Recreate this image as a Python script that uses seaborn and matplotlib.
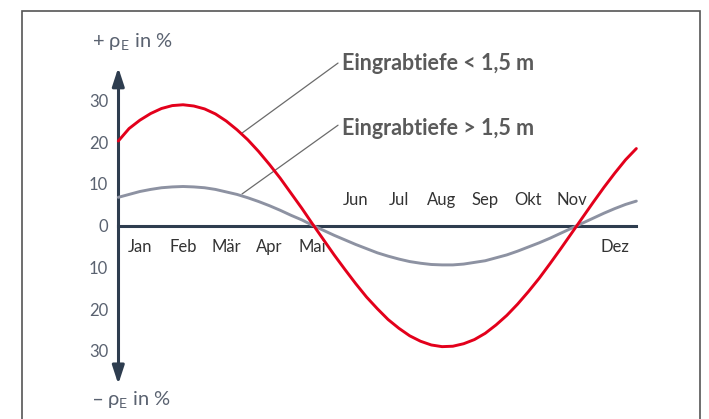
import numpy as np
import pandas as pd
import matplotlib
matplotlib.use('Agg')
import matplotlib.pyplot as plt
from matplotlib.patches import Rectangle
import seaborn as sns

sns.set_style('white')
plt.rcParams['font.family'] = ['Lato', 'DejaVu Sans']

# month position (0 = start of Jan, 12 = end of Dez), quarter-month steps
month_pos = [i / 4 for i in range(49)]

# values (ρE in %)
shallow = [20.3, 23.3, 25.3, 26.9, 28.1, 28.8, 29.0, 28.7, 28.0, 26.8, 25.1, 23.0,
           20.6, 17.8, 14.7, 11.4, 7.8, 4.2, 0.4, -3.3, -7.0, -10.5, -13.9, -17.1,
           -19.9, -22.5, -24.6, -26.4, -27.7, -28.6, -29.0, -28.9, -28.3, -27.3, -25.8, -23.8,
           -21.5, -18.8, -15.8, -12.6, -9.1, -5.5, -1.8, 1.9, 5.6, 9.2, 12.6, 15.8, 18.5]
deep = [6.8, 7.5, 8.2, 8.7, 9.1, 9.3, 9.4, 9.3, 9.1, 8.7, 8.1, 7.5,
        6.7, 5.8, 4.8, 3.7, 2.5, 1.4, 0.1, -1.1, -2.3, -3.4, -4.5, -5.5,
        -6.5, -7.3, -8.0, -8.6, -9.0, -9.3, -9.4, -9.4, -9.2, -8.8, -8.4, -7.7,
        -7.0, -6.1, -5.1, -4.1, -3.0, -1.8, -0.6, 0.6, 1.8, 3.0, 4.1, 5.1, 5.9]

months = ['Jan', 'Feb', 'Mär', 'Apr', 'Mai', 'Jun', 'Jul', 'Aug', 'Sep', 'Okt', 'Nov', 'Dez']
months_above = ['Jun', 'Jul', 'Aug', 'Sep', 'Okt', 'Nov']
y_ticks = [-30, -20, -10, 0, 10, 20, 30]
y_ticklabels = ['30', '20', '10', '0', '10', '20', '30']

label_shallow = 'Eingrabtiefe < 1,5 m'
label_deep = 'Eingrabtiefe > 1,5 m'

AXIS = '#2e3d4f'
RED = '#e3001b'
GREY = '#8d92a2'
TXT = '#5a6270'

df = pd.DataFrame({'month': month_pos, 'shallow': shallow, 'deep': deep})

fig = plt.figure(figsize=(7.09, 4.19), dpi=100)
ax = fig.add_axes([0, 0, 1, 1])
ax.set_facecolor('none')

sns.lineplot(data=df, x='month', y='deep', color=GREY, lw=2.1, ax=ax, legend=False, zorder=3)
sns.lineplot(data=df, x='month', y='shallow', color=RED, lw=2.1, ax=ax, legend=False, zorder=4)

ax.set_xlim(-2.740, 13.683)
ax.set_ylim(-46.35, 54.12)

# axes through the origin
for s in ['top', 'right']:
    ax.spines[s].set_visible(False)
ax.spines['left'].set_position(('data', 0))
ax.spines['bottom'].set_position(('data', 0))
ax.spines['left'].set_bounds(-35, 35)
ax.spines['bottom'].set_bounds(0, 12)
for s in ['left', 'bottom']:
    ax.spines[s].set_color(AXIS)
    ax.spines[s].set_linewidth(2.2)
    ax.spines[s].set_zorder(2)

ax.set_xticks(range(1, 13))
ax.set_xticklabels([])
ax.tick_params(axis='x', direction='inout', length=8, width=1.1, color=AXIS)
ax.set_yticks(y_ticks)
ax.set_yticklabels(y_ticklabels)
ax.tick_params(axis='y', direction='inout', length=6.5, width=1.1, color=AXIS,
               labelsize=12, labelcolor=TXT, pad=4)
ax.set_xlabel('')
ax.set_ylabel('')

# arrow heads on the y axis
arrow = dict(arrowstyle='-|>,head_length=0.55,head_width=0.18', mutation_scale=20,
             color=AXIS, lw=2.2, shrinkA=0, shrinkB=0)
ax.annotate('', xy=(0, 37.9), xytext=(0, 33), arrowprops=arrow)
ax.annotate('', xy=(0, -38.0), xytext=(0, -33), arrowprops=arrow)

# month labels
for i, m in enumerate(months):
    yy = 5.0 if m in months_above else -6.4
    ax.text(i + 0.5, yy, m, ha='center', va='baseline', fontsize=12, color='#333333')

# axis titles
ax.text(-0.61, 42.6, '+ ρ$_\\mathregular{E}$ in %', ha='left', va='baseline',
        fontsize=14.5, color=TXT)
ax.text(-0.61, -43.2, '– ρ$_\\mathregular{E}$ in %', ha='left', va='baseline',
        fontsize=14.5, color=TXT)

# series labels with leader lines
ax.plot([5.09, 2.865], [39.0, 22.2], color='#6b6b6b', lw=0.9, zorder=1)
ax.plot([5.09, 2.865], [24.1, 7.6], color='#6b6b6b', lw=0.9, zorder=1)
ax.text(5.18, 38.8, label_shallow, ha='left', va='center', fontsize=15.5,
        fontweight='bold', color='#5a5a5a')
ax.text(5.18, 23.4, label_deep, ha='left', va='center', fontsize=15.5,
        fontweight='bold', color='#5a5a5a')

# outer frame (bottom edge is cut off)
fig.add_artist(Rectangle((22 / 709, -0.1), (700 - 22) / 709, 1.1 - 11 / 419,
                         transform=fig.transFigure, fill=False,
                         edgecolor='#555555', lw=1.2))

fig.savefig('out.png', dpi=100)
